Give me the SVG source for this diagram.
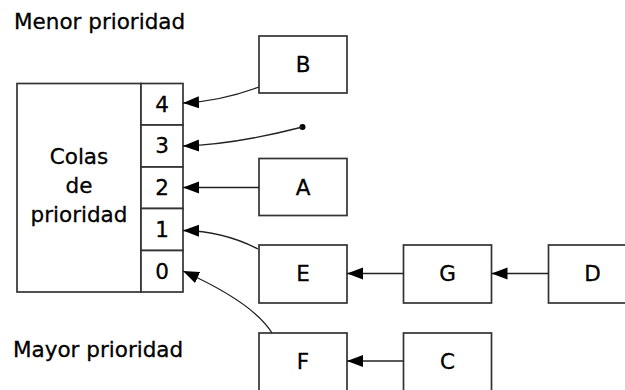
<svg xmlns="http://www.w3.org/2000/svg" width="625" height="390" viewBox="0 0 625 390">
<style>
.box{fill:#fff;stroke:#333;stroke-width:1.7}
.t{font-family:"DejaVu Sans",sans-serif;font-size:21.5px;fill:#000;stroke:#000;stroke-width:0.3;text-anchor:middle}
.lt{font-family:"DejaVu Sans",sans-serif;font-size:21.5px;fill:#000;stroke:#000;stroke-width:0.3}
.c{fill:none;stroke:#222;stroke-width:1.3}
</style>
<defs>
<marker id="ah" markerUnits="userSpaceOnUse" markerWidth="17" markerHeight="13" refX="16" refY="6" orient="auto">
<path d="M0,0 L16,6 L0,12 z" fill="#000"/>
</marker>
</defs>
<rect width="625" height="390" fill="#fff"/>
<text class="lt" x="14" y="29">Menor prioridad</text>
<text class="lt" x="13" y="357">Mayor prioridad</text>
<g id="colas">
<rect class="box" x="17" y="83.5" width="124" height="208.5"/>
<text class="t" x="79" y="164">Colas</text>
<text class="t" x="79" y="193">de</text>
<text class="t" x="79" y="222">prioridad</text>
</g>
<g id="q4"><rect class="box" x="141" y="83.5" width="42" height="41.5"/><text class="t" x="162" y="111.5">4</text></g>
<g id="q3"><rect class="box" x="141" y="125" width="42" height="42"/><text class="t" x="162" y="153">3</text></g>
<g id="q2"><rect class="box" x="141" y="167" width="42" height="41.5"/><text class="t" x="162" y="195">2</text></g>
<g id="q1"><rect class="box" x="141" y="208.5" width="42" height="42"/><text class="t" x="162" y="237">1</text></g>
<g id="q0"><rect class="box" x="141" y="250.5" width="42" height="41.5"/><text class="t" x="162" y="278.5">0</text></g>
<g id="B"><rect class="box" x="259" y="36" width="88" height="57"/><text class="t" x="303" y="72">B</text></g>
<g id="A"><rect class="box" x="259" y="158.5" width="88" height="57"/><text class="t" x="303" y="194.5">A</text></g>
<g id="E"><rect class="box" x="259" y="245" width="88" height="58"/><text class="t" x="303" y="281">E</text></g>
<g id="G"><rect class="box" x="403.5" y="245" width="88" height="58"/><text class="t" x="447.5" y="281">G</text></g>
<g id="D"><rect class="box" x="548.5" y="245" width="88" height="58"/><text class="t" x="592.5" y="281">D</text></g>
<g id="F"><rect class="box" x="259" y="333" width="88" height="58"/><text class="t" x="303" y="369">F</text></g>
<g id="C"><rect class="box" x="403.5" y="333" width="88" height="58"/><text class="t" x="447.5" y="369">C</text></g>
<g id="connectors">
<path class="c" d="M259,87 C232,97 207,102 183,103" marker-end="url(#ah)"/>
<circle cx="302.5" cy="127" r="3" fill="#000"/>
<path class="c" d="M302.5,127 C256,139 216,145 183,146" marker-end="url(#ah)"/>
<path class="c" d="M259,187.5 L183,187.5" marker-end="url(#ah)"/>
<path class="c" d="M258,249 C235,237 210,231 183,230.5" marker-end="url(#ah)"/>
<path class="c" d="M272,333 C258,310 225,290 183,271" marker-end="url(#ah)"/>
<path class="c" d="M403.5,273.5 L347,273.5" marker-end="url(#ah)"/>
<path class="c" d="M548.5,273.5 L491.5,273.5" marker-end="url(#ah)"/>
<path class="c" d="M403.5,361 L347,361" marker-end="url(#ah)"/>
</g>
</svg>
